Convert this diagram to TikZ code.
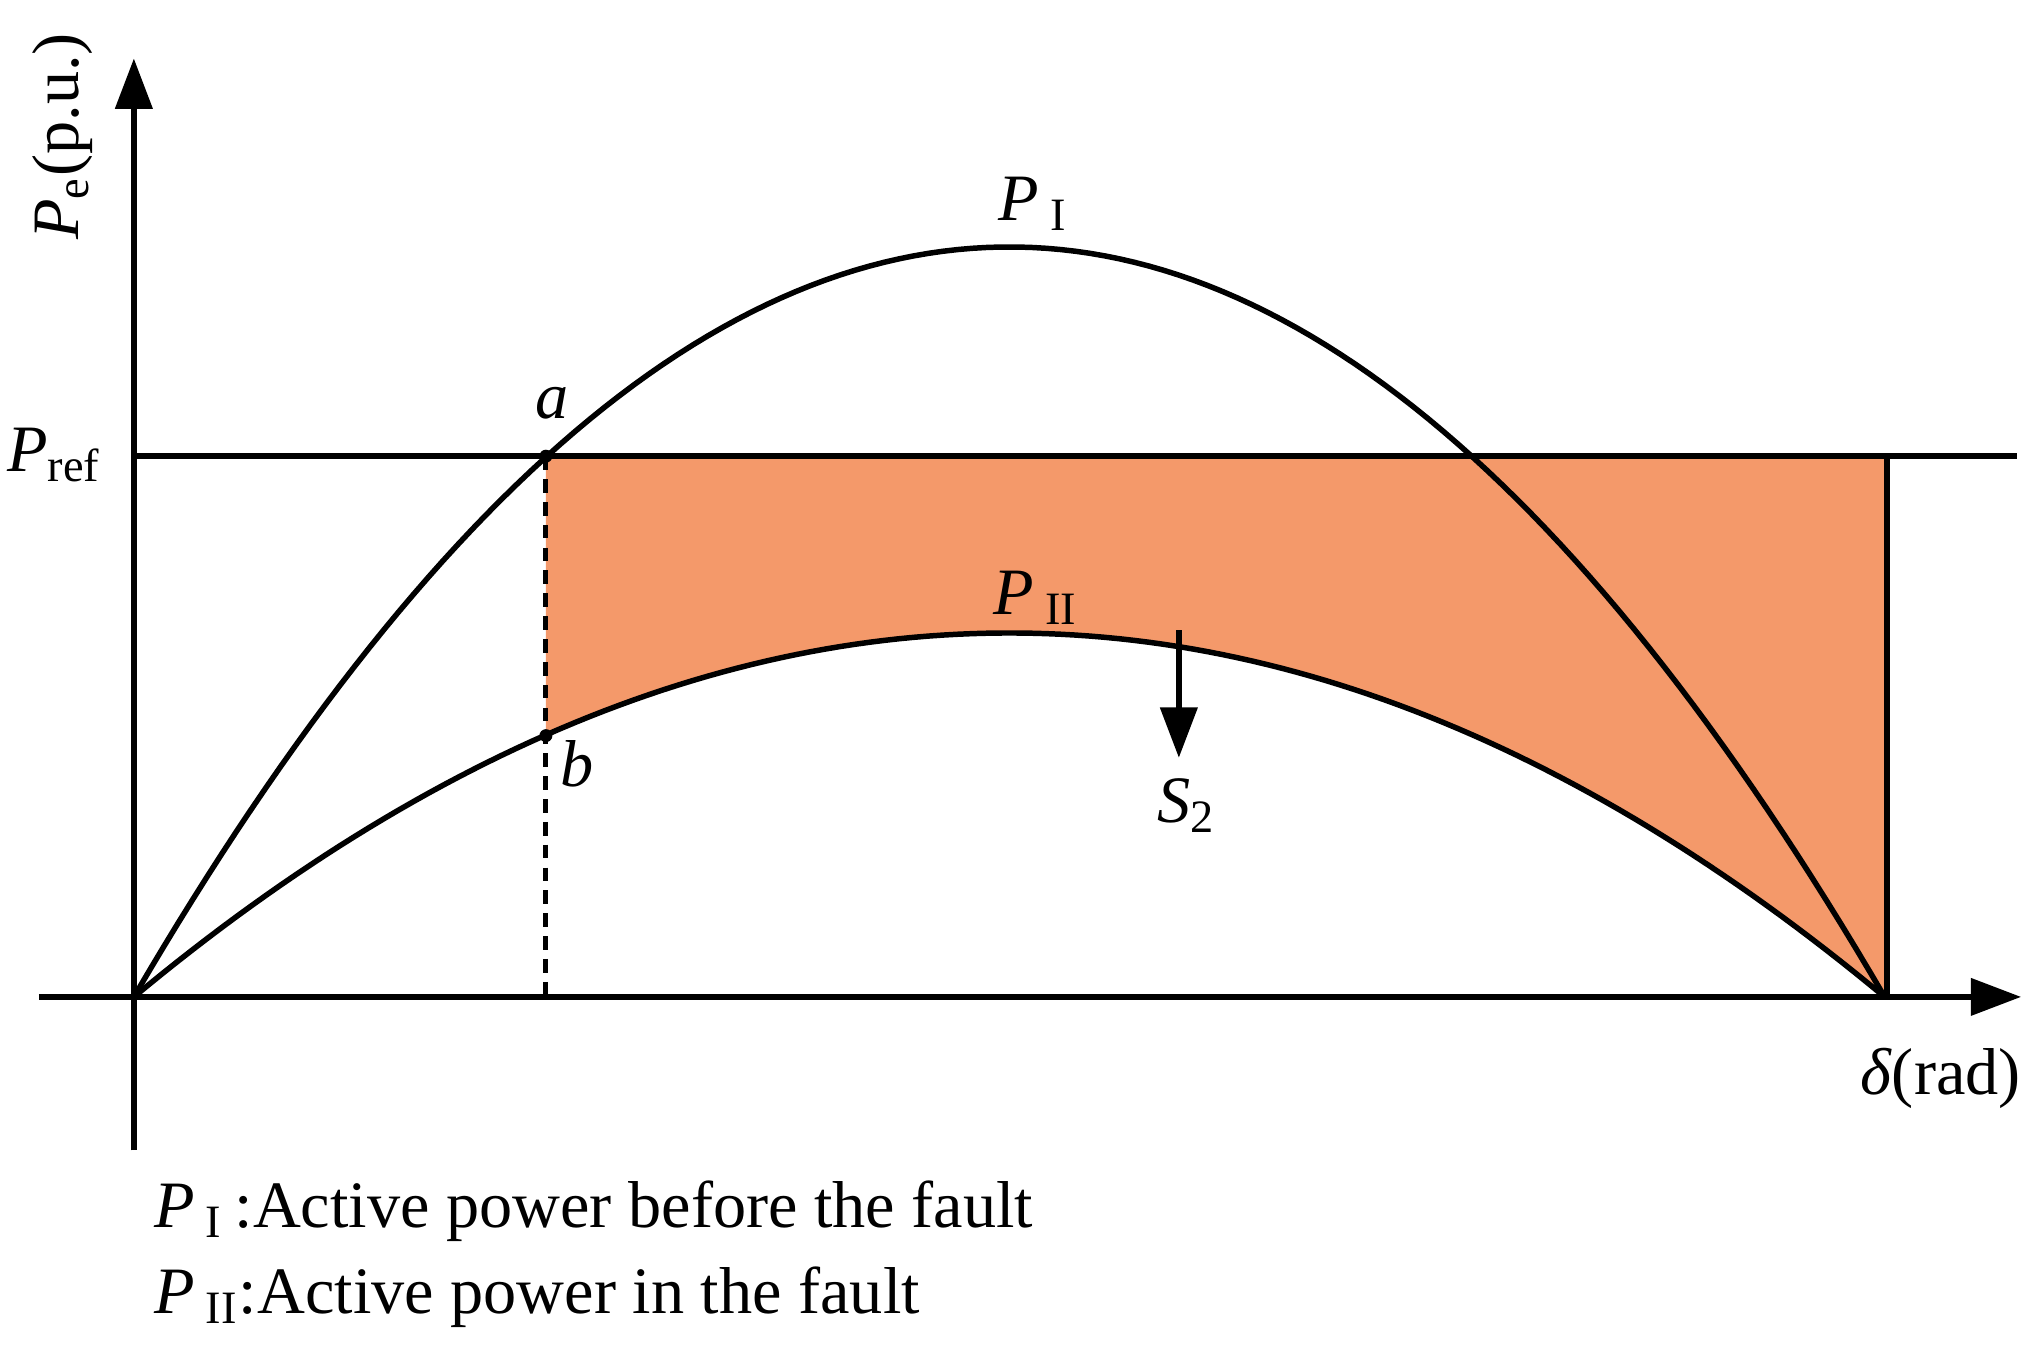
\documentclass[tikz,border=0pt]{standalone}
\usepackage{fontspec}
\setmainfont{Liberation Serif}
\usetikzlibrary{arrows.meta}
\begin{document}
\begin{tikzpicture}[x=0.01cm,y=-0.01cm,
  lbl/.style={font=\fontsize{14.5}{17}\selectfont,inner sep=0pt},
  leg/.style={font=\fontsize{14.5}{17}\selectfont,inner sep=0pt,anchor=west},
  curve/.style={line width=1.2pt},
  ax/.style={line width=1.2pt,-{Triangle[length=11pt,width=8pt]}}]
\useasboundingbox (0,0) rectangle (1568,1045);
\fill[fill={rgb,255:red,244;green,153;blue,106}] (420,351) -- (1452,351) -- (1452,767)
  -- plot[domain=1450:420,samples=80] (\x,{767-280*4*((\x-103)/1347)*(1-(\x-103)/1347)}) -- cycle;
\coordinate (o) at (103,767);
\coordinate (xe) at (1555,767);
\coordinate (xs) at (30,767);
\coordinate (yb) at (103,885);
\coordinate (ye) at (103,45);
\draw[ax] (xs) -- (xe);
\draw[ax] (yb) -- (ye);
\coordinate (r0) at (103,351);
\coordinate (r1) at (1552,351);
\draw[curve] (r0) -- (r1);
\draw[curve] (1452,351) -- (1452,767);
\draw[curve] plot[domain=103:1450,samples=120] (\x,{767-577*4*((\x-103)/1347)*(1-(\x-103)/1347)});
\draw[curve] plot[domain=103:1450,samples=120] (\x,{767-280*4*((\x-103)/1347)*(1-(\x-103)/1347)});
\coordinate (a) at (420,351);
\coordinate (b) at (420,566);
\coordinate (d) at (420,767);
\draw[line width=1.1pt,dash pattern=on 3pt off 2pt] (a) -- (d);
\fill (a) circle (5);
\fill (b) circle (5);
\node[lbl] (la) at (425,310) {\textit{a}};
\node[lbl] (lb) at (444,588) {\textit{b}};
\node[lbl] (p1) at (795,157) {\textit{P}\,\textsubscript{I}};
\node[lbl] (p2) at (797,460) {\textit{P}\,\textsubscript{II}};
\coordinate (s0) at (907,485);
\coordinate (s1) at (907,583);
\draw[line width=1.2pt,-{Triangle[length=11pt,width=8pt]}] (s0) -- (s1);
\node[lbl] (s2) at (913,620) {\textit{S}\textsubscript{2}};
\node[lbl] (pref) at (42,350) {\textit{P}\textsubscript{ref}};
\node[lbl,rotate=90] (pc) at (48,105) {\textit{P}\textsubscript{e}(p.u.)};
\node[lbl] (dr) at (1493,830) {\textit{δ}(rad)};
\node[leg] (l1) at (118,932) {\textit{P}\,\textsubscript{I}\,:Active power before the fault};
\node[leg] (l2) at (118,998) {\textit{P}\,\textsubscript{II}:Active power in the fault};
\end{tikzpicture}
\end{document}
